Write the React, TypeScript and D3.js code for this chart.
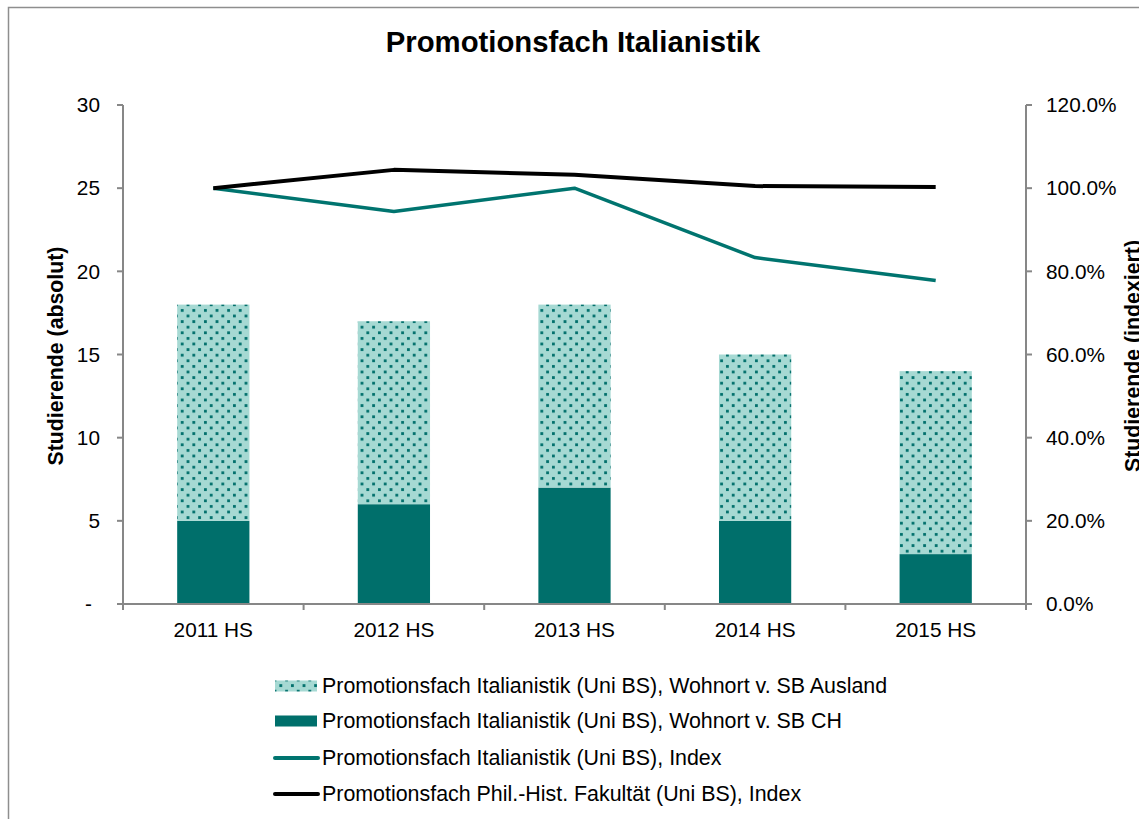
import React from 'react'
import * as d3 from 'd3'

const WIDTH = 1139
const HEIGHT = 819

const TITLE = 'Promotionsfach Italianistik'
const LEFT_TITLE = 'Studierende (absolut)'
const RIGHT_TITLE = 'Studierende (indexiert)'

const CATEGORIES = ['2011 HS', '2012 HS', '2013 HS', '2014 HS', '2015 HS']
const CH_VALUES = [5, 6, 7, 5, 3]
const AUSLAND_VALUES = [13, 11, 11, 10, 11]
const ITAL_INDEX = [1.0, 0.944, 1.0, 0.833, 0.778]
const FAKULTAET_INDEX = [1.0, 1.044, 1.032, 1.005, 1.003]

const LEFT_TICKS = [0, 5, 10, 15, 20, 25, 30]
const RIGHT_TICKS = [0, 0.2, 0.4, 0.6, 0.8, 1.0, 1.2]

const LEGEND_LABELS = [
  'Promotionsfach Italianistik (Uni BS), Wohnort v. SB Ausland',
  'Promotionsfach Italianistik (Uni BS), Wohnort v. SB CH',
  'Promotionsfach Italianistik (Uni BS), Index',
  'Promotionsfach Phil.-Hist. Fakultät (Uni BS), Index',
]

const DARK_TEAL = '#006F6B'
const LIGHT_TEAL = '#A6D9D3'
const LINE_TEAL = '#00746F'
const AXIS = '#878787'
const FONT = '"Liberation Sans", Arial, sans-serif'

const PLOT = { left: 123, right: 1026, top: 105, bottom: 604 }

export default function App() {
  const x = d3.scaleBand<string>()
    .domain(CATEGORIES)
    .range([PLOT.left, PLOT.right])
    .paddingInner(0.6)
    .paddingOuter(0.3)
  const step = x.step()
  const yLeft = d3.scaleLinear().domain([0, 30]).range([PLOT.bottom, PLOT.top])
  const yRight = d3.scaleLinear().domain([0, 1.2]).range([PLOT.bottom, PLOT.top])
  const cx = (c: string) => (x(c) as number) + x.bandwidth() / 2

  const line = d3.line<number>()
    .x((_, i) => cx(CATEGORIES[i]))
    .y((d) => yRight(d))

  // legend row centres
  const legendRows = [686, 721, 758, 794]

  return (
    <div style={{ position: 'absolute', left: 0, top: 0 }}>
      <svg width={WIDTH} height={HEIGHT} style={{ display: 'block', background: '#fff' }} fontFamily={FONT}>
        <defs>
          <pattern id="dots" patternUnits="userSpaceOnUse" width={11.6} height={11.2}>
            <rect width={11.6} height={11.2} fill={LIGHT_TEAL} />
            <rect x={1} y={1} width={2.8} height={2.8} fill={DARK_TEAL} />
            <rect x={6.8} y={6.6} width={2.8} height={2.8} fill={DARK_TEAL} />
          </pattern>
        </defs>

        {/* outer frame */}
        <rect x={8.5} y={7.5} width={WIDTH} height={HEIGHT} fill="none" stroke="#8E8E8E" strokeWidth={1.5} />

        <text x={573} y={52} textAnchor="middle" fontSize={29.3} fontWeight="bold">{TITLE}</text>

        {/* bars */}
        {CATEGORIES.map((c, i) => {
          const bx = x(c) as number
          const top = yLeft(CH_VALUES[i] + AUSLAND_VALUES[i])
          return (
            <g key={c}>
              <rect x={bx} y={yLeft(CH_VALUES[i])} width={x.bandwidth()}
                height={PLOT.bottom - yLeft(CH_VALUES[i])} fill={DARK_TEAL} />
              <rect x={bx} y={top} width={x.bandwidth()}
                height={yLeft(CH_VALUES[i]) - top} fill="url(#dots)" />
            </g>
          )
        })}

        {/* axes */}
        <g stroke={AXIS} strokeWidth={2}>
          <line x1={PLOT.left} x2={PLOT.left} y1={PLOT.top} y2={PLOT.bottom} />
          <line x1={PLOT.right} x2={PLOT.right} y1={PLOT.top} y2={PLOT.bottom} />
          <line x1={PLOT.left - 5} x2={PLOT.right + 5} y1={PLOT.bottom} y2={PLOT.bottom} />
          {LEFT_TICKS.map((t) => (
            <line key={'l' + t} x1={PLOT.left - 6} x2={PLOT.left} y1={yLeft(t)} y2={yLeft(t)} />
          ))}
          {RIGHT_TICKS.map((t) => (
            <line key={'r' + t} x1={PLOT.right} x2={PLOT.right + 6} y1={yRight(t)} y2={yRight(t)} />
          ))}
          {d3.range(CATEGORIES.length + 1).map((i) => (
            <line key={'x' + i} x1={PLOT.left + i * step} x2={PLOT.left + i * step}
              y1={PLOT.bottom} y2={PLOT.bottom + 6} />
          ))}
        </g>

        {/* lines */}
        <path d={line(ITAL_INDEX) || ''} fill="none" stroke={LINE_TEAL} strokeWidth={3.5} strokeLinejoin="round" />
        <path d={line(FAKULTAET_INDEX) || ''} fill="none" stroke="#000" strokeWidth={4} strokeLinejoin="round" />

        {/* tick labels */}
        <g fontSize={20.8} fill="#000">
          {LEFT_TICKS.map((t) => (
            <text key={'lt' + t} x={t === 0 ? 92 : 100} y={yLeft(t)} dy="0.35em" textAnchor="end">
              {t === 0 ? '-' : String(t)}
            </text>
          ))}
          {RIGHT_TICKS.map((t) => (
            <text key={'rt' + t} x={1046} y={yRight(t)} dy="0.35em">
              {d3.format('.1%')(t)}
            </text>
          ))}
          {CATEGORIES.map((c) => (
            <text key={'ct' + c} x={cx(c)} y={637} textAnchor="middle">{c}</text>
          ))}
        </g>

        <text transform={`translate(63,356) rotate(-90)`} textAnchor="middle" fontSize={21.3} fontWeight="bold">
          {LEFT_TITLE}
        </text>
        <text transform={`translate(1140,356) rotate(-90)`} textAnchor="middle" fontSize={21.3} fontWeight="bold">
          {RIGHT_TITLE}
        </text>

        {/* legend */}
        <g fontSize={21.4}>
          <rect x={275} y={legendRows[0] - 5.5} width={42} height={11} fill="url(#dots)" />
          <rect x={275} y={legendRows[1] - 5.5} width={42} height={11} fill={DARK_TEAL} />
          <line x1={275} x2={318} y1={legendRows[2]} y2={legendRows[2]} stroke={LINE_TEAL} strokeWidth={4} strokeLinecap="round" />
          <line x1={275} x2={318} y1={legendRows[3]} y2={legendRows[3]} stroke="#000" strokeWidth={4} strokeLinecap="round" />
          {LEGEND_LABELS.map((l, i) => (
            <text key={l} x={322} y={legendRows[i]} dy="0.35em">{l}</text>
          ))}
        </g>
      </svg>
    </div>
  )
}
